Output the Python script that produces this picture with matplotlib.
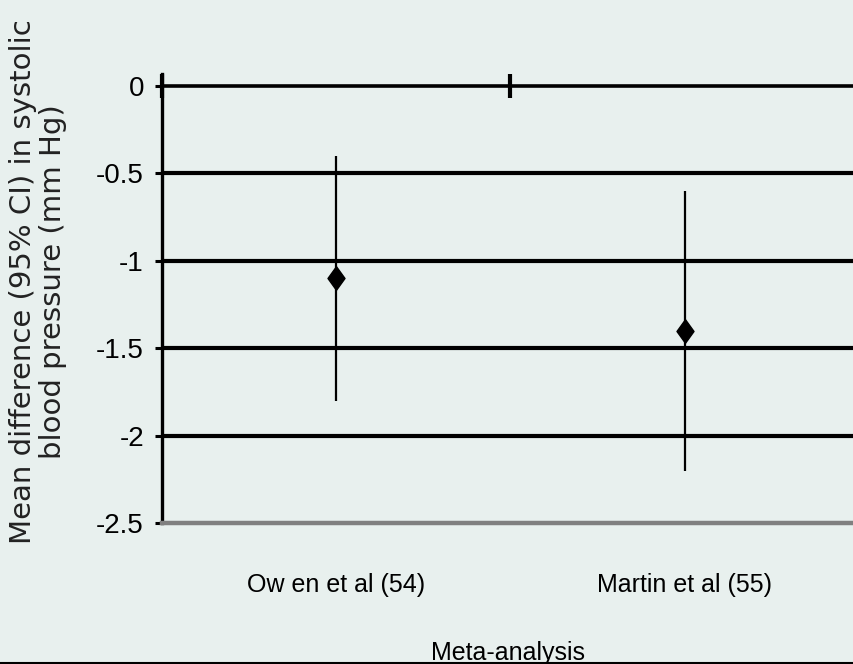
import matplotlib.pyplot as plt
import numpy as np
from matplotlib.lines import Line2D
from matplotlib.path import Path

studies = ["Ow en et al (54)", "Martin et al (55)"]
mean_diff = [-1.1, -1.4]
ci_low = [-1.8, -2.2]
ci_high = [-0.4, -0.6]
y_ticks = [0, -0.5, -1, -1.5, -2, -2.5]
y_tick_labels = ["0", "-0.5", "-1", "-1.5", "-2", "-2.5"]

BG = "#e8f0ee"
NARROW = ["Liberation Sans Narrow", "Liberation Sans", "DejaVu Sans"]

fig = plt.figure(figsize=(8.54, 6.64), dpi=100, facecolor=BG)
ax = fig.add_axes([0.1897, 0.2123, 0.816, 0.6762], facecolor=BG)

x = np.arange(len(studies))
ax.set_xlim(-0.5, len(studies) - 0.5)
ax.set_ylim(-2.5, 0.069)

# gridlines
for yv in y_ticks[1:-1]:
    ax.axhline(yv, color="black", lw=3.0, zorder=1)

# zero line = top spine moved to y=0, with category-boundary ticks
ax.spines["top"].set_position(("data", 0))
ax.spines["top"].set_linewidth(2.6)
ax.spines["top"].set_color("black")
ax.spines["right"].set_visible(False)
ax.spines["left"].set_linewidth(2.4)
ax.spines["left"].set_color("black")
ax.spines["bottom"].set_linewidth(3.2)
ax.spines["bottom"].set_color("#808080")

ax.set_xticks(x)
ax.set_xticklabels(studies, family=NARROW, fontsize=18)
ax.set_xticks(np.arange(len(studies) + 1) - 0.5, minor=True)
ax.tick_params(axis="x", which="major", length=0, pad=36)
ax.tick_params(axis="x", which="minor", bottom=False, top=True,
               direction="inout", length=17, width=3, color="black")

ax.set_yticks(y_ticks)
ax.set_yticklabels(y_tick_labels, family=NARROW, fontsize=20)
ax.tick_params(axis="y", which="major", direction="out", length=5, width=2.2,
               pad=8, color="black")

# CI lines and diamonds
diamond = Path([(0, 1), (0.72, 0), (0, -1), (-0.72, 0), (0, 1)],
               [Path.MOVETO, Path.LINETO, Path.LINETO, Path.LINETO, Path.CLOSEPOLY])
ax.vlines(x, ci_low, ci_high, color="black", lw=1.6, zorder=3)
ax.plot(x, mean_diff, linestyle="none", marker=diamond, markersize=17,
        color="black", zorder=4)

fig.text(38 / 854, 1 - 282 / 664,
         "Mean difference (95% CI) in systolic\nblood pressure (mm Hg)",
         rotation=90, ha="center", va="center", multialignment="center",
         family="DejaVu Sans", fontsize=21, color="#222222", linespacing=1.05)
fig.text(508 / 854, 4 / 664, "Meta-analysis", ha="center", va="baseline",
         family=NARROW, fontsize=18)
fig.add_artist(Line2D([0, 1], [0.002, 0.002], color="black", lw=1.5,
                      transform=fig.transFigure))

fig.savefig("out.png", dpi=100, facecolor=BG)
